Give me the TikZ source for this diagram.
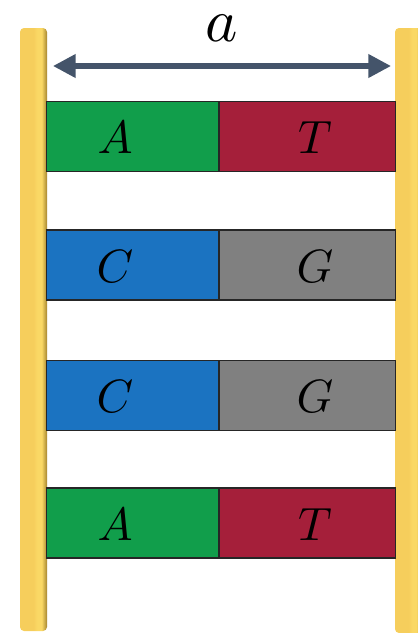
\documentclass[tikz,border=0pt]{standalone}
\usetikzlibrary{arrows.meta}
\definecolor{cgreen}{HTML}{119E4B}
\definecolor{cred}{HTML}{A51F3A}
\definecolor{cblue}{HTML}{1B73C1}
\definecolor{cgray}{HTML}{808080}
\definecolor{arrowc}{HTML}{44546A}
\definecolor{railA}{HTML}{F6CE5C}
\definecolor{railB}{HTML}{FAD865}
\definecolor{railC}{HTML}{A5852F}
\pgfdeclarehorizontalshading{railshade}{100bp}{color(0bp)=(railA); color(25bp)=(railA); color(50bp)=(railA); color(57bp)=(railB); color(65bp)=(railB); color(75bp)=(railC); color(100bp)=(railC)}
\tikzset{
  rail/.style={rounded corners=3pt, shading=railshade, draw=none},
  basebox/.style={draw=black!85, line width=0.9pt, minimum height=52.5pt, inner sep=0pt},
  lbox/.style={basebox, minimum width=129pt},
  rbox/.style={basebox, minimum width=132pt},
  letter/.style={inner sep=0pt, scale=3.5},
  dim/.style={arrowc, line width=3.8pt, {Triangle[length=17pt,width=17pt]}-{Triangle[length=17pt,width=17pt]}}
}
\begin{document}
\begin{tikzpicture}[x=0.75pt,y=-0.75pt]
\useasboundingbox (0,0) rectangle (418,633);
\begin{scope}
\clip (0,0) rectangle (418,633);
% rails
\shade[rail] (20,28) rectangle (47,631);
\shade[rail] (395,28) rectangle (422,633);
% boxes
\foreach \n/\y/\cl/\cr/\tl/\tr in {1/136.5/cgreen/cred/A/T, 2/265/cblue/cgray/C/G, 3/395.5/cblue/cgray/C/G, 4/523/cgreen/cred/A/T}{
  \node[lbox, fill=\cl, anchor=east] (L\n) at (219,\y) {};
  \node[rbox, fill=\cr, anchor=west] (R\n) at (219,\y) {};
  \node[letter] (tl\n) at (115,\y+1.5) {$\tl$};
  \node[letter] (tr\n) at (315,\y+1.5) {$\tr$};
}
\end{scope}
% dimension arrow
\coordinate (dl) at (53,66);
\coordinate (dr) at (391,66);
\draw[dim] (dl) -- (dr);
\node[inner sep=0pt, scale=4.6] (alabel) at (222,28) {$a$};
\end{tikzpicture}
\end{document}
